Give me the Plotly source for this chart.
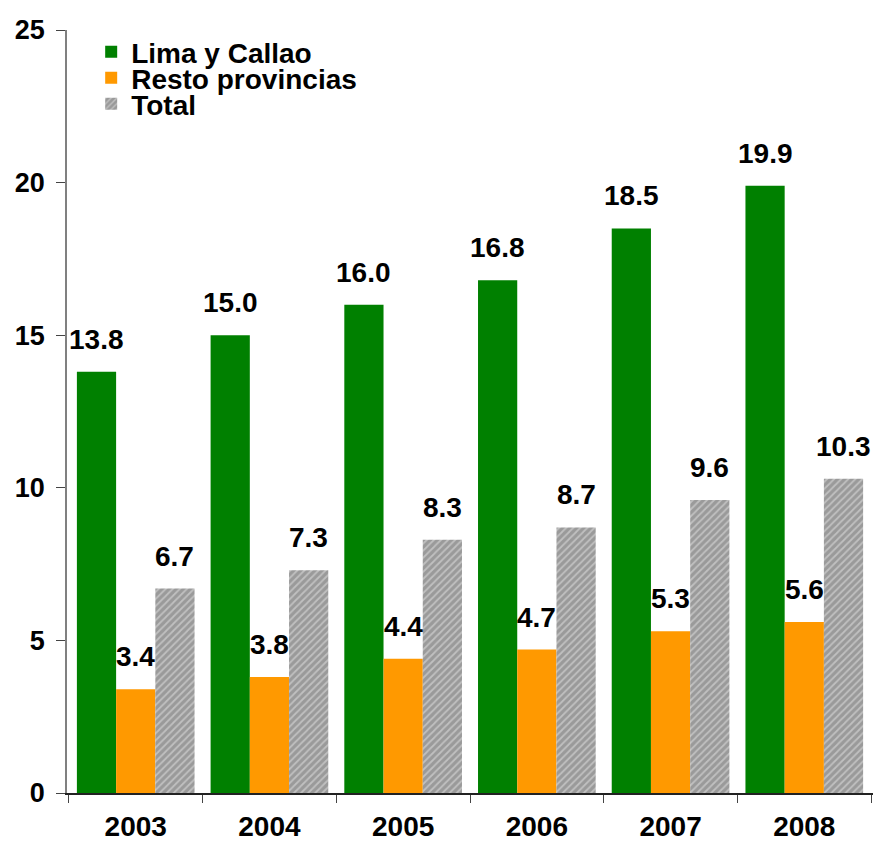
import plotly.graph_objects as go

years = ["2003", "2004", "2005", "2006", "2007", "2008"]
lima_callao = [13.8, 15.0, 16.0, 16.8, 18.5, 19.9]
resto_provincias = [3.4, 3.8, 4.4, 4.7, 5.3, 5.6]
total = [6.7, 7.3, 8.3, 8.7, 9.6, 10.3]
y_ticks = [0, 5, 10, 15, 20, 25]

FONT = "Liberation Sans, Arial, sans-serif"
BARGAP = 0.12
BOLD = dict(family=FONT, size=27, color="black", weight="bold")

fig = go.Figure()
fig.add_trace(go.Bar(name="Lima y Callao", x=years, y=lima_callao,
                     legend="legend", showlegend=True,
                     marker=dict(color="#008000", line=dict(width=0))))
fig.add_trace(go.Bar(name="Resto provincias", x=years, y=resto_provincias,
                     legend="legend2", showlegend=True,
                     marker=dict(color="#FF9900", line=dict(width=0))))
fig.add_trace(go.Bar(name="Total", x=years, y=total,
                     legend="legend3", showlegend=True,
                     marker=dict(color="#9a9a9a", line=dict(width=0),
                                 pattern=dict(shape="/", fgcolor="#e6e6e6",
                                              bgcolor="#9a9a9a", size=5,
                                              solidity=0.35))))

# value labels above each bar
bar_w = (1 - BARGAP) / 3
annotations = []
for k, series in enumerate([lima_callao, resto_provincias, total]):
    offset = (k - 1) * bar_w
    for i, v in enumerate(series):
        annotations.append(dict(
            x=i + offset, y=v, xref="x", yref="y",
            text=f"{v:.1f}", showarrow=False,
            yanchor="bottom", yshift=15,
            font=dict(family=FONT, size=28, color="black", weight="bold")))


def legend_row(y):
    # one legend box per series, stacked tightly
    return dict(x=0.03, y=y, xanchor="left", yanchor="middle",
                font=dict(family=FONT, size=28, color="black", weight="bold"),
                bgcolor="rgba(0,0,0,0)", itemwidth=30, borderwidth=0)


fig.update_layout(
    width=873, height=848,
    margin=dict(l=67, r=0, t=30, b=55),
    paper_bgcolor="white", plot_bgcolor="white",
    showlegend=True,
    barmode="group", bargap=BARGAP, bargroupgap=0,
    font=dict(family=FONT, color="black"),
    annotations=annotations,
    legend=legend_row(0.971),
    legend2=legend_row(0.937),
    legend3=legend_row(0.903),
    xaxis=dict(showline=True, linecolor="#222222", linewidth=1.5,
               ticks="outside", tickson="boundaries", ticklen=8,
               tickcolor="#444444", showgrid=False,
               tickfont=dict(family=FONT, size=28, color="black", weight="bold"),
               ticklabelstandoff=8),
    yaxis=dict(range=[0, 25], tickvals=y_ticks, showline=True,
               linecolor="#808080", linewidth=1.5, ticks="outside",
               ticklen=9, tickcolor="#444444", showgrid=False,
               zeroline=False, tickfont=BOLD,
               ticklabelstandoff=6),
)

fig.write_html("out.html")
